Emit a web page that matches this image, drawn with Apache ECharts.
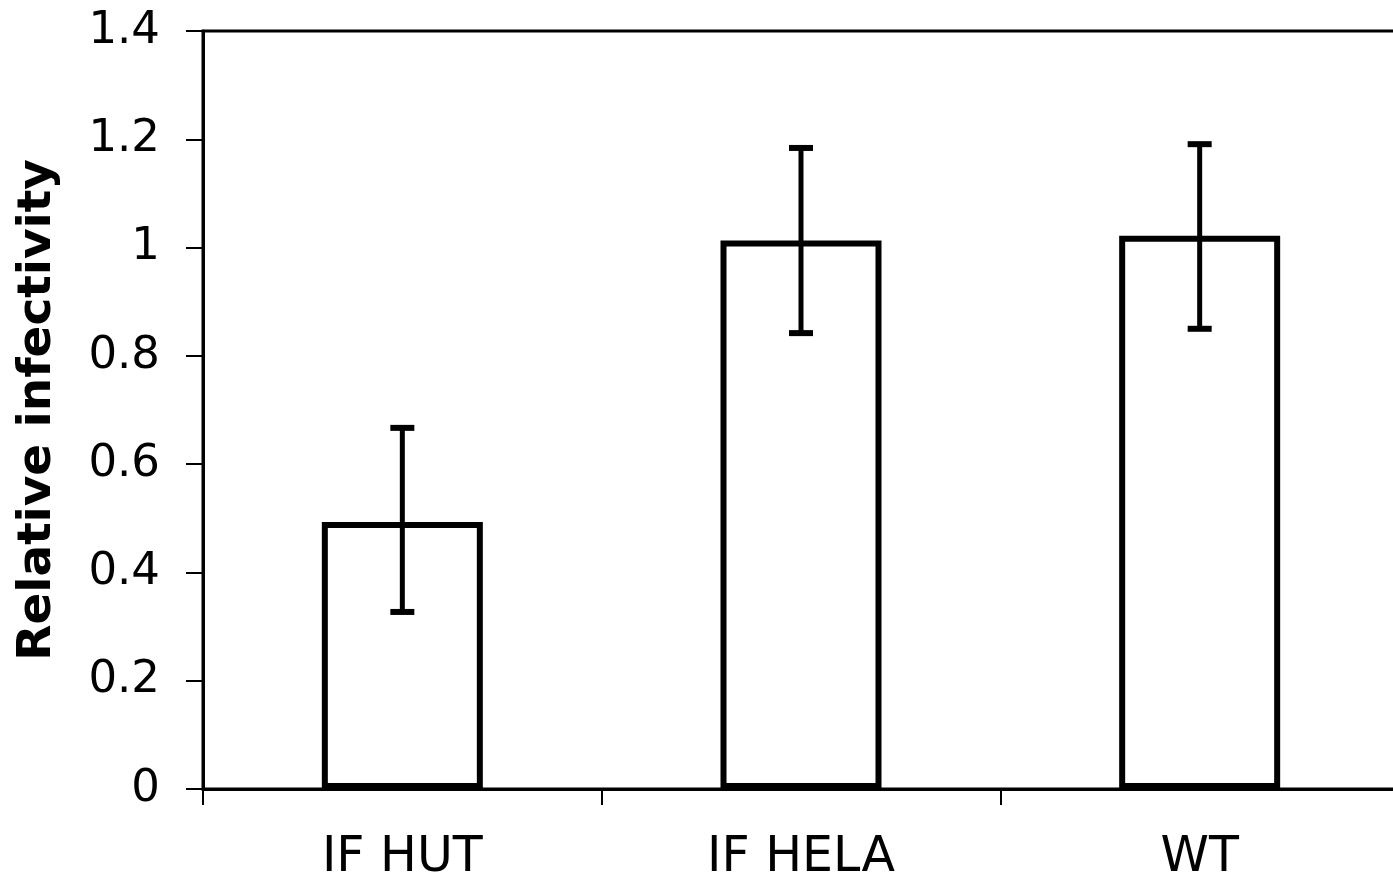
<!DOCTYPE html>
<html>
<head>
<meta charset="utf-8">
<script src="https://cdn.jsdelivr.net/npm/echarts@6/dist/echarts.min.js"></script>
<style>
  html, body { margin: 0; padding: 0; background: #fff; }
  #chart { width: 1393px; height: 883px; }
</style>
</head>
<body>
<div id="chart"></div>
<script>
// Relative infectivity per virus preparation, with error bar bounds
const categories = ['IF HUT', 'IF HELA', 'WT'];
const meanValues = [0.493, 1.013, 1.022];
const errorLow = [0.327, 0.842, 0.850];
const errorHigh = [0.667, 1.184, 1.191];
const yTicks = { min: 0, max: 1.4, interval: 0.2 };

const FONT = 'DejaVu Sans';

const chart = echarts.init(document.getElementById('chart'), null, { renderer: 'canvas' });

const errorData = categories.map((c, i) => [i, errorLow[i], errorHigh[i]]);

chart.setOption({
  animation: false,
  backgroundColor: '#ffffff',
  grid: {
    left: 203, right: -6, top: 31, bottom: 94,
    outerBoundsMode: 'none',
    containLabel: false,
    show: true, borderColor: '#000', borderWidth: 3, backgroundColor: 'transparent'
  },
  xAxis: {
    type: 'category',
    data: categories,
    axisLine: { lineStyle: { color: '#000', width: 3 } },
    axisTick: { show: true, length: 16, lineStyle: { color: '#000', width: 2 } },
    axisLabel: { color: '#000', fontFamily: FONT, fontSize: 49, margin: 45 },
    splitLine: { show: false }
  },
  yAxis: {
    type: 'value',
    min: yTicks.min, max: yTicks.max, interval: yTicks.interval,
    name: 'Relative infectivity',
    nameLocation: 'middle',
    nameGap: 142,
    nameTextStyle: { color: '#000', fontFamily: FONT, fontWeight: 'bold', fontSize: 47 },
    axisLine: { show: true, lineStyle: { color: '#000', width: 3 } },
    axisTick: { show: true, length: 17, lineStyle: { color: '#000', width: 2 } },
    axisLabel: {
      color: '#000', fontFamily: FONT, fontSize: 45, margin: 43,
      formatter: v => String(Math.round(v * 10) / 10)
    },
    splitLine: { show: false }
  },
  series: [
    {
      type: 'bar',
      data: meanValues,
      barWidth: 161,
      itemStyle: { color: '#ffffff', borderColor: '#000', borderWidth: 6 },
      z: 2
    },
    {
      type: 'custom',
      data: errorData,
      z: 5,
      renderItem: function (params, api) {
        const x = api.coord([api.value(0), 0])[0];
        const lo = api.coord([api.value(0), api.value(1)])[1];
        const hi = api.coord([api.value(0), api.value(2)])[1];
        const half = 12;
        const st = { stroke: '#000', lineWidth: 5 };
        const capSt = { stroke: '#000', lineWidth: 6 };
        return {
          type: 'group',
          children: [
            { type: 'line', shape: { x1: x, y1: hi, x2: x, y2: lo }, style: st },
            { type: 'line', shape: { x1: x - half, y1: hi, x2: x + half, y2: hi }, style: capSt },
            { type: 'line', shape: { x1: x - half, y1: lo, x2: x + half, y2: lo }, style: capSt }
          ]
        };
      }
    }
  ]
});
</script>
</body>
</html>
